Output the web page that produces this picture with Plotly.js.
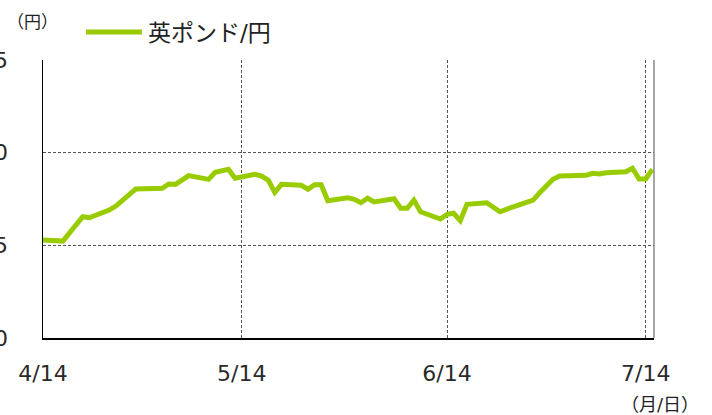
<!DOCTYPE html>
<html>
<head>
<meta charset="utf-8">
<script src="https://cdn.plot.ly/plotly-3.0.1.min.js"></script>
<style>
html,body{margin:0;padding:0;background:#fff;}
#chart{width:712px;height:415px;}
</style>
</head>
<body>
<div id="chart"></div>
<script>
// Data (GBP/JPY)
const dates = [
  "2014-04-14","2014-04-17","2014-04-20","2014-04-21","2014-04-24","2014-04-25","2014-04-28",
  "2014-05-02","2014-05-03","2014-05-04","2014-05-06","2014-05-09","2014-05-10","2014-05-12",
  "2014-05-13","2014-05-16","2014-05-17","2014-05-18","2014-05-19","2014-05-20","2014-05-23",
  "2014-05-24","2014-05-25","2014-05-26","2014-05-27","2014-05-30","2014-05-31","2014-06-01",
  "2014-06-02","2014-06-03","2014-06-06","2014-06-07","2014-06-08","2014-06-09","2014-06-10",
  "2014-06-13","2014-06-14","2014-06-15","2014-06-16","2014-06-17","2014-06-20","2014-06-22",
  "2014-06-24","2014-06-27","2014-06-28","2014-06-30","2014-07-01","2014-07-05","2014-07-06",
  "2014-07-07","2014-07-08","2014-07-11","2014-07-12","2014-07-13","2014-07-14","2014-07-15"
];
const gbpJpy = [
  165.29,165.23,166.54,166.49,166.90,167.12,168.04,
  168.08,168.31,168.29,168.76,168.56,168.94,169.10,
  168.62,168.83,168.74,168.52,167.86,168.29,168.24,
  168.02,168.27,168.27,167.41,167.57,167.48,167.30,
  167.54,167.34,167.51,167.00,167.00,167.44,166.81,
  166.42,166.67,166.73,166.33,167.21,167.30,166.81,
  167.08,167.44,167.84,168.56,168.74,168.78,168.89,
  168.85,168.92,168.97,169.16,168.58,168.58,169.10
];
const xTickVals = ["2014-04-14","2014-05-14","2014-06-14","2014-07-14"];
const xTickText = ["4/14","5/14","6/14","7/14"];
const yTickVals = [160,165,170,175];
const seriesName = "英ポンド/円";
const yUnit = "（円）";
const xUnit = "（月/日）";

const FONT = "DejaVu Sans, Noto Sans CJK JP, sans-serif";
const GREEN = "#99cc00";

const trace = {
  x: dates, y: gbpJpy, type: "scatter", mode: "lines", name: seriesName,
  line: {color: GREEN, width: 5, shape: "linear"}, showlegend: false,
  hoverinfo: "skip"
};

const layout = {
  width: 712, height: 415,
  margin: {l: 43, r: 58, t: 60, b: 77, pad: 0},
  paper_bgcolor: "#fff", plot_bgcolor: "#fff",
  font: {family: FONT, color: "#222", size: 22},
  xaxis: {
    type: "date",
    range: ["2014-04-14", "2014-07-15 06:00"],
    tickvals: xTickVals, ticktext: xTickText,
    showgrid: true, gridcolor: "#555", gridwidth: 1, griddash: "3px,2px",
    showline: true, linecolor: "#000", linewidth: 1.5,
    ticks: "", ticklabelstandoff: 15,
    tickfont: {family: FONT, size: 22, color: "#2a2a2a"},
    zeroline: false, fixedrange: true
  },
  yaxis: {
    range: [160, 175],
    tickvals: yTickVals,
    showgrid: true, gridcolor: "#555", gridwidth: 1, griddash: "3px,2px",
    showline: true, linecolor: "#000", linewidth: 1.5,
    ticks: "", ticklabelstandoff: 29,
    tickfont: {family: FONT, size: 22, color: "#2a2a2a"},
    zeroline: false, fixedrange: true
  },
  shapes: [
    {type: "line", xref: "paper", yref: "paper", x0: 1, x1: 1, y0: 0, y1: 1,
     line: {color: "#888", width: 1.5}},
    {type: "line", xref: "paper", yref: "paper", x0: 0.0704, x1: 0.162, y0: 1.1007, y1: 1.1007,
     line: {color: GREEN, width: 5}}
  ],
  annotations: [
    {text: seriesName, xref: "paper", yref: "paper", x: 0.168, y: 1.097,
     xanchor: "left", yanchor: "middle", showarrow: false,
     font: {family: FONT, size: 23, color: "#222"}},
    {text: yUnit, xref: "paper", yref: "paper", x: -0.017, y: 1.137,
     xanchor: "center", yanchor: "middle", showarrow: false,
     font: {family: FONT, size: 17, color: "#222"}},
    {text: xUnit, xref: "paper", yref: "paper", x: 1.01, y: -0.24,
     xanchor: "center", yanchor: "middle", showarrow: false,
     font: {family: FONT, size: 18, color: "#222"}}
  ]
};

Plotly.newPlot("chart", [trace], layout, {displayModeBar: false, staticPlot: true});
</script>
</body>
</html>
